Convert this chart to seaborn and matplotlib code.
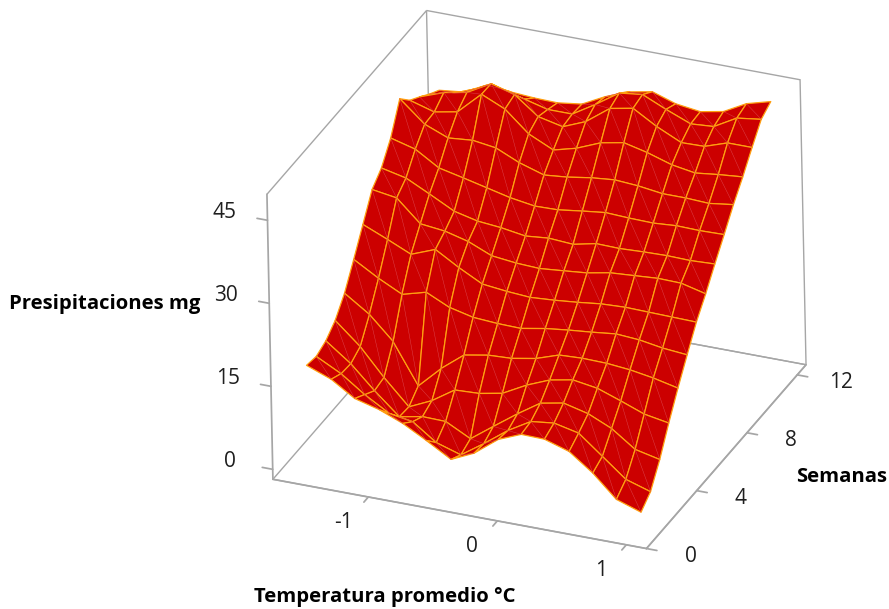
import numpy as np
import matplotlib
matplotlib.use("Agg")
import matplotlib.pyplot as plt
import seaborn as sns
from mpl_toolkits.mplot3d import proj3d
from mpl_toolkits.mplot3d.art3d import Line3DCollection

temperatura = [-1.46, -1.27, -1.09, -0.90, -0.72, -0.54, -0.35, -0.17, 0.02, 0.20, 0.38, 0.57, 0.75, 0.93, 1.12]
semanas = [0, 0.77, 1.54, 2.30, 3.07, 3.84, 4.61, 5.38, 6.14, 6.91, 7.68, 8.45, 9.22, 9.98, 10.75]

# one row per week, one column per temperature
presipitaciones = [
    [20.0, 18.3, 15.6, 14.4, 12.7, 10.4, 7.8, 9.7, 13.0, 14.7, 14.6, 13.2, 10.1, 6.1, 4.6],
    [19.6, 17.3, 14.3, 11.7, 11.0, 8.0, 6.6, 9.4, 12.6, 15.0, 15.5, 14.5, 11.1, 7.7, 6.3],
    [20.4, 17.1, 13.0, 9.1, 9.9, 9.8, 7.5, 10.5, 13.6, 16.3, 17.1, 16.0, 14.1, 11.1, 10.1],
    [22.1, 18.2, 13.4, 8.9, 10.8, 13.5, 13.7, 14.5, 16.8, 18.5, 19.3, 18.6, 17.1, 15.5, 14.7],
    [25.0, 22.0, 17.9, 10.7, 14.6, 17.8, 18.6, 18.8, 19.6, 21.0, 21.2, 21.1, 20.7, 20.0, 19.0],
    [29.1, 26.5, 24.4, 25.6, 23.6, 22.6, 22.3, 22.2, 23.0, 23.5, 23.9, 24.4, 24.1, 23.4, 23.0],
    [33.4, 31.5, 29.6, 31.3, 28.8, 26.6, 26.1, 25.8, 26.1, 26.5, 27.0, 27.2, 27.1, 27.0, 26.9],
    [37.7, 37.0, 33.1, 32.6, 31.5, 29.7, 29.2, 29.0, 29.4, 29.8, 30.6, 30.9, 31.2, 31.1, 30.0],
    [39.6, 38.6, 36.5, 34.2, 33.2, 32.8, 32.1, 32.5, 32.2, 33.1, 33.0, 33.2, 33.3, 33.2, 33.4],
    [43.0, 41.8, 39.2, 38.2, 37.2, 36.2, 35.5, 35.6, 36.2, 36.7, 36.5, 36.4, 36.7, 36.6, 36.7],
    [48.1, 44.3, 42.6, 43.0, 42.4, 40.5, 39.1, 39.5, 40.2, 40.6, 40.3, 39.7, 39.7, 39.5, 40.1],
    [45.8, 44.5, 45.3, 49.3, 47.4, 43.7, 41.6, 42.7, 44.5, 45.3, 44.3, 42.9, 42.2, 42.7, 43.1],
    [44.4, 46.0, 46.8, 49.2, 48.0, 44.8, 43.8, 45.5, 48.7, 49.5, 47.0, 44.9, 45.0, 46.4, 46.4],
    [42.9, 43.9, 45.5, 46.3, 45.2, 44.1, 44.1, 46.6, 49.5, 50.0, 48.1, 46.3, 46.6, 48.9, 49.5],
    [41.6, 42.1, 44.1, 43.7, 43.4, 43.3, 43.9, 46.0, 47.7, 48.5, 47.1, 46.5, 47.3, 49.5, 50.7],
]

x_ticks = [-1, 0, 1]
y_ticks = [0, 4, 8, 12]
z_ticks = [0, 15, 30, 45]

sns.set_theme(style="white")
plt.rcParams["font.family"] = ["Open Sans", "DejaVu Sans"]

W, H = 889, 609
side = 643
fig = plt.figure(figsize=(W / 100, H / 100), dpi=100)
ax = fig.add_axes([206.3 / W, -0.7 / H, side / W, side / H], projection="3d", proj_type="ortho")
ax.view_init(elev=28.57, azim=-66.58, roll=1.2)
ax.set_box_aspect((403.9, 409.6, 323.4))
ax.patch.set_alpha(0)

X, Y = np.meshgrid(temperatura, semanas)
Z = np.array(presipitaciones)

ax.computed_zorder = False
ax.plot_surface(X, Y, Z, rstride=1, cstride=1, color="#CC0000", edgecolor="#FFA010",
                linewidth=0.9, shade=False, antialiased=True, zorder=1)

# the pale triangle seams in each cell
seams = []
for j in range(len(semanas) - 1):
    for i in range(len(temperatura) - 1):
        seams.append([(X[j + 1, i], Y[j + 1, i], Z[j + 1, i]), (X[j, i + 1], Y[j, i + 1], Z[j, i + 1])])
ax.add_collection3d(Line3DCollection(seams, colors="#DB4048", linewidths=0.35, zorder=2))

xlim = (-1.74, 1.156)
ylim = (0, 12.7)
zlim = (-1.8, 49.7)
ax.set_xlim(*xlim)
ax.set_ylim(*ylim)
ax.set_zlim(*zlim)
ax.set_xticks(x_ticks)
ax.set_yticks(y_ticks)
ax.set_zticks(z_ticks)
ax.grid(False)

for axis in (ax.xaxis, ax.yaxis, ax.zaxis):
    axis.set_pane_color((1, 1, 1, 1))
    axis.pane.set_alpha(None)
    axis.pane.set_facecolor((1, 1, 1, 0))
    axis.pane.set_edgecolor("#A6A6A6")
    axis.pane.set_linewidth(1.0)
    axis.line.set_color("#A6A6A6")
    axis._axinfo["tick"]["inward_factor"] = 0.35
    axis._axinfo["tick"]["outward_factor"] = 0

ax.zaxis.set_ticks_position("lower")
ax.zaxis._get_tickdir = lambda pos: 0  # z ticks point along x here
ax.zaxis._axinfo["tick"]["inward_factor"] = 0
ax.zaxis._axinfo["tick"]["outward_factor"] = 0.35
ax.tick_params(axis="both", color="#A6A6A6")
ax.set_xticklabels([])
ax.set_yticklabels([])
ax.set_zticklabels([])


def tick_label(point, text, dx, dy):
    # put a tick label at a pixel offset from where the axis projects the tick
    px, py, _ = proj3d.proj_transform(*point, ax.get_proj())
    ax.annotate(text, xy=(px, py), xytext=(dx, dy), textcoords="offset pixels", ha="center", va="center",
                fontsize=15, color="#1f1f1f", annotation_clip=False)


for t in x_ticks:
    tick_label((t, ylim[0], zlim[0]), str(t), -25, -26)
for t in y_ticks:
    tick_label((xlim[1], t, zlim[0]), str(t), 44, -8)
for t in z_ticks:
    tick_label((xlim[0], ylim[0], t), str(t), -43, 8)

fig.text(385 / W, 1 - 597 / H, "Temperatura promedio °C", ha="center", va="center", fontsize=14.6, fontweight="bold", color="black")
fig.text(105 / W, 1 - 304 / H, "Presipitaciones mg", ha="center", va="center", fontsize=14.6, fontweight="bold", color="black")
fig.text(842 / W, 1 - 477 / H, "Semanas", ha="center", va="center", fontsize=14.6, fontweight="bold", color="black")

fig.savefig("out.png", dpi=100, facecolor="white")
